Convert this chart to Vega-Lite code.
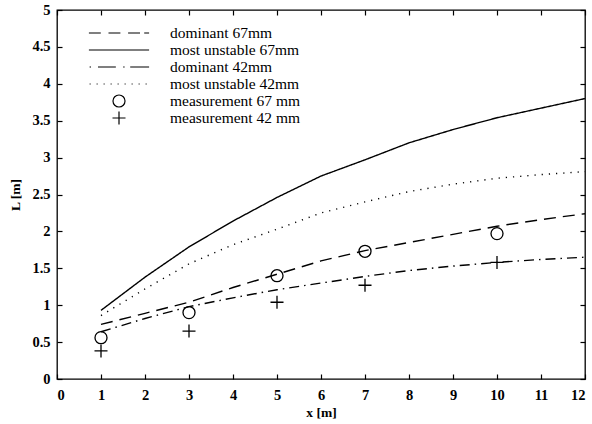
{
  "$schema": "https://vega.github.io/schema/vega-lite/v6.json",
  "width": 528,
  "height": 369,
  "autosize": {"type": "none"},
  "padding": {"left": 57, "top": 10, "right": 7, "bottom": 45},
  "background": "white",
  "config": {
    "view": {"stroke": "black", "strokeWidth": 1.3},
    "font": "Liberation Serif",
    "axis": {
      "grid": false,
      "domain": false,
      "tickColor": "black",
      "tickWidth": 1.2,
      "labelFont": "Liberation Serif",
      "labelFontSize": 14.5,
      "labelFontWeight": "bold",
      "labelColor": "black",
      "titleFont": "Liberation Serif",
      "titleFontSize": 13.5,
      "titleFontWeight": "bold",
      "titleColor": "black"
    }
  },
  "datasets": {
    "curves": [
      {"series": "dominant 67mm", "x": 1, "L": 0.74},
      {"series": "dominant 67mm", "x": 2, "L": 0.89},
      {"series": "dominant 67mm", "x": 3, "L": 1.04},
      {"series": "dominant 67mm", "x": 4, "L": 1.24},
      {"series": "dominant 67mm", "x": 5, "L": 1.42},
      {"series": "dominant 67mm", "x": 6, "L": 1.6},
      {"series": "dominant 67mm", "x": 7, "L": 1.74},
      {"series": "dominant 67mm", "x": 8, "L": 1.85},
      {"series": "dominant 67mm", "x": 9, "L": 1.96},
      {"series": "dominant 67mm", "x": 10, "L": 2.07},
      {"series": "dominant 67mm", "x": 11, "L": 2.16},
      {"series": "dominant 67mm", "x": 12, "L": 2.24},
      {"series": "most unstable 67mm", "x": 1, "L": 0.93},
      {"series": "most unstable 67mm", "x": 2, "L": 1.38},
      {"series": "most unstable 67mm", "x": 3, "L": 1.79},
      {"series": "most unstable 67mm", "x": 4, "L": 2.14},
      {"series": "most unstable 67mm", "x": 5, "L": 2.46},
      {"series": "most unstable 67mm", "x": 6, "L": 2.75},
      {"series": "most unstable 67mm", "x": 7, "L": 2.97},
      {"series": "most unstable 67mm", "x": 8, "L": 3.2},
      {"series": "most unstable 67mm", "x": 9, "L": 3.38},
      {"series": "most unstable 67mm", "x": 10, "L": 3.54},
      {"series": "most unstable 67mm", "x": 11, "L": 3.67},
      {"series": "most unstable 67mm", "x": 12, "L": 3.8},
      {"series": "dominant 42mm", "x": 1, "L": 0.64},
      {"series": "dominant 42mm", "x": 2, "L": 0.82},
      {"series": "dominant 42mm", "x": 3, "L": 0.98},
      {"series": "dominant 42mm", "x": 4, "L": 1.1},
      {"series": "dominant 42mm", "x": 5, "L": 1.21},
      {"series": "dominant 42mm", "x": 6, "L": 1.3},
      {"series": "dominant 42mm", "x": 7, "L": 1.39},
      {"series": "dominant 42mm", "x": 8, "L": 1.47},
      {"series": "dominant 42mm", "x": 9, "L": 1.53},
      {"series": "dominant 42mm", "x": 10, "L": 1.58},
      {"series": "dominant 42mm", "x": 11, "L": 1.62},
      {"series": "dominant 42mm", "x": 12, "L": 1.65},
      {"series": "most unstable 42mm", "x": 1, "L": 0.86},
      {"series": "most unstable 42mm", "x": 2, "L": 1.22},
      {"series": "most unstable 42mm", "x": 3, "L": 1.56},
      {"series": "most unstable 42mm", "x": 4, "L": 1.82},
      {"series": "most unstable 42mm", "x": 5, "L": 2.03},
      {"series": "most unstable 42mm", "x": 6, "L": 2.25},
      {"series": "most unstable 42mm", "x": 7, "L": 2.4},
      {"series": "most unstable 42mm", "x": 8, "L": 2.54},
      {"series": "most unstable 42mm", "x": 9, "L": 2.64},
      {"series": "most unstable 42mm", "x": 10, "L": 2.72},
      {"series": "most unstable 42mm", "x": 11, "L": 2.77},
      {"series": "most unstable 42mm", "x": 12, "L": 2.81}
    ],
    "measurements": [
      {"series": "measurement 67 mm", "x": 1, "L": 0.56},
      {"series": "measurement 67 mm", "x": 3, "L": 0.9},
      {"series": "measurement 67 mm", "x": 5, "L": 1.4},
      {"series": "measurement 67 mm", "x": 7, "L": 1.73},
      {"series": "measurement 67 mm", "x": 10, "L": 1.97},
      {"series": "measurement 42 mm", "x": 1, "L": 0.38},
      {"series": "measurement 42 mm", "x": 3, "L": 0.65},
      {"series": "measurement 42 mm", "x": 5, "L": 1.04},
      {"series": "measurement 42 mm", "x": 7, "L": 1.27},
      {"series": "measurement 42 mm", "x": 10, "L": 1.58}
    ]
  },
  "resolve": {"axis": {"x": "independent", "y": "independent"}},
  "layer": [
    {
      "data": {"name": "curves"},
      "transform": [{"filter": {"field": "series", "oneOf": ["dominant 67mm", "dominant 42mm"]}}],
      "mark": {"type": "line", "color": "black", "strokeWidth": 1.4},
      "encoding": {
        "x": {
          "field": "x", "type": "quantitative",
          "scale": {"domain": [0, 12], "nice": false},
          "axis": {"orient": "bottom", "values": [0,1,2,3,4,5,6,7,8,9,10,11,12], "ticks": false, "labelPadding": 9, "title": "x [m]", "titlePadding": 4}
        },
        "y": {
          "field": "L", "type": "quantitative",
          "scale": {"domain": [0, 5], "nice": false},
          "axis": {"orient": "left", "values": [0,0.5,1,1.5,2,2.5,3,3.5,4,4.5,5], "format": "~g", "ticks": false, "labelPadding": 7, "title": "L [m]", "titleX": -42, "titleY": 184.5, "titleAngle": -90, "titleAlign": "center", "titleBaseline": "middle"}
        },
        "detail": {"field": "series"},
        "strokeDash": {
          "field": "series", "type": "nominal",
          "scale": {
            "domain": ["dominant 67mm", "most unstable 67mm", "dominant 42mm", "most unstable 42mm"],
            "range": [[12, 7], [1, 0], [10, 5, 1.5, 5], [1.2, 6]]
          },
          "legend": null
        }
      }
    },
    {
      "data": {"name": "curves"},
      "transform": [{"filter": {"field": "series", "oneOf": ["most unstable 67mm", "most unstable 42mm"]}}],
      "mark": {"type": "line", "color": "black", "strokeWidth": 1.4},
      "encoding": {
        "x": {
          "field": "x", "type": "quantitative",
          "scale": {"domain": [0, 12], "nice": false},
          "axis": {"orient": "bottom", "values": [0,1,2,3,4,5,6,7,8,9,10,11,12], "offset": -5, "ticks": true, "tickSize": 5, "labels": false, "title": null}
        },
        "y": {
          "field": "L", "type": "quantitative",
          "scale": {"domain": [0, 5], "nice": false},
          "axis": {"orient": "left", "values": [0,0.5,1,1.5,2,2.5,3,3.5,4,4.5,5], "offset": -5, "ticks": true, "tickSize": 5, "labels": false, "title": null}
        },
        "detail": {"field": "series"},
        "strokeDash": {
          "field": "series", "type": "nominal",
          "scale": {
            "domain": ["dominant 67mm", "most unstable 67mm", "dominant 42mm", "most unstable 42mm"],
            "range": [[12, 7], [1, 0], [10, 5, 1.5, 5], [1.2, 6]]
          },
          "legend": null
        }
      }
    },
    {
      "data": {"name": "measurements"},
      "transform": [{"filter": {"field": "series", "equal": "measurement 67 mm"}}],
      "mark": {"type": "point", "filled": false, "color": "black", "strokeWidth": 1.3, "opacity": 1, "size": 196},
      "encoding": {
        "x": {
          "field": "x", "type": "quantitative",
          "scale": {"domain": [0, 12], "nice": false},
          "axis": {"orient": "top", "values": [0,1,2,3,4,5,6,7,8,9,10,11,12], "offset": -5, "ticks": true, "tickSize": 5, "labels": false, "title": null}
        },
        "y": {
          "field": "L", "type": "quantitative",
          "scale": {"domain": [0, 5], "nice": false},
          "axis": {"orient": "right", "values": [0,0.5,1,1.5,2,2.5,3,3.5,4,4.5,5], "offset": -5, "ticks": true, "tickSize": 5, "labels": false, "title": null}
        },
        "shape": {
          "field": "series", "type": "nominal",
          "scale": {
            "domain": ["dominant 67mm", "most unstable 67mm", "dominant 42mm", "most unstable 42mm", "measurement 67 mm", "measurement 42 mm"],
            "range": [
              "M-4.3,0H-2.6M-1.5,0H0.2M1.3,0H3.0M3.6,0H4.3",
              "M-4.3,0H4.3",
              "M-4.2,0H-4M-3,0H-0.45M0.6,0H0.8M1.6,0H4.3",
              "M-4.2,0H-4.05M-3.2,0H-3.05M-2.2,0H-2.05M-1.2,0H-1.05M-0.2,0H-0.05M0.8,0H0.95M1.8,0H1.95M2.8,0H2.95M3.8,0H3.95",
              "M-0.86,0A0.86,0.86 0 1,0 0.86,0A0.86,0.86 0 1,0 -0.86,0Z",
              "M-0.93,0H0.93M0,-0.93V0.93"
            ]
          },
          "legend": {
            "title": null,
            "orient": "none",
            "legendX": 54,
            "legendY": 15,
            "padding": 0,
            "symbolSize": 196,
            "symbolStrokeColor": "black",
            "symbolFillColor": "transparent",
            "symbolStrokeWidth": 1.2,
            "symbolOpacity": 1,
            "labelOffset": 43,
            "labelFont": "Liberation Serif",
            "labelFontSize": 15.5,
            "labelColor": "black",
            "rowPadding": -2.6,
            "labelLimit": 300
          }
        }
      }
    },
    {
      "data": {"name": "measurements"},
      "transform": [{"filter": {"field": "series", "equal": "measurement 42 mm"}}],
      "mark": {"type": "point", "filled": false, "color": "black", "strokeWidth": 1.3, "opacity": 1, "size": 196},
      "encoding": {
        "x": {
          "field": "x", "type": "quantitative",
          "scale": {"domain": [0, 12], "nice": false},
          "axis": null
        },
        "y": {
          "field": "L", "type": "quantitative",
          "scale": {"domain": [0, 5], "nice": false},
          "axis": null
        },
        "shape": {
          "field": "series", "type": "nominal",
          "scale": {
            "domain": ["dominant 67mm", "most unstable 67mm", "dominant 42mm", "most unstable 42mm", "measurement 67 mm", "measurement 42 mm"],
            "range": [
              "M-4.3,0H-2.6M-1.5,0H0.2M1.3,0H3.0M3.6,0H4.3",
              "M-4.3,0H4.3",
              "M-4.2,0H-4M-3,0H-0.45M0.6,0H0.8M1.6,0H4.3",
              "M-4.2,0H-4.05M-3.2,0H-3.05M-2.2,0H-2.05M-1.2,0H-1.05M-0.2,0H-0.05M0.8,0H0.95M1.8,0H1.95M2.8,0H2.95M3.8,0H3.95",
              "M-0.86,0A0.86,0.86 0 1,0 0.86,0A0.86,0.86 0 1,0 -0.86,0Z",
              "M-0.93,0H0.93M0,-0.93V0.93"
            ]
          },
          "legend": {
            "title": null,
            "orient": "none",
            "legendX": 54,
            "legendY": 15,
            "padding": 0,
            "symbolSize": 196,
            "symbolStrokeColor": "black",
            "symbolFillColor": "transparent",
            "symbolStrokeWidth": 1.2,
            "symbolOpacity": 1,
            "labelOffset": 43,
            "labelFont": "Liberation Serif",
            "labelFontSize": 15.5,
            "labelColor": "black",
            "rowPadding": -2.6,
            "labelLimit": 300
          }
        }
      }
    }
  ]
}
